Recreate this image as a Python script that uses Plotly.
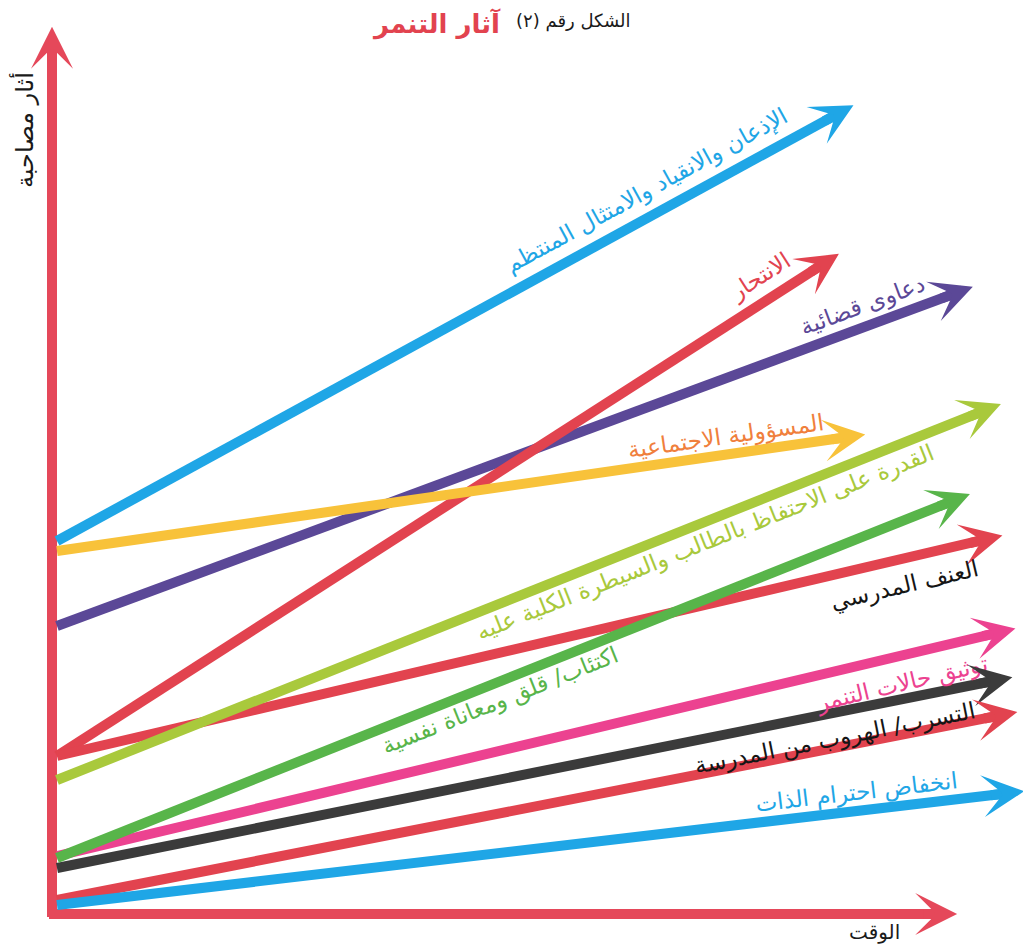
import math
import plotly.graph_objects as go

# ---------------- data ----------------
labels = [
    "الإذعان والانقياد والامتثال المنتظم",
    "دعاوى قضائية",
    "الانتحار",
    "المسؤولية الاجتماعية",
    "العنف المدرسي",
    "القدرة على الاحتفاظ بالطالب والسيطرة الكلية عليه",
    "اكتئاب/ قلق ومعاناة نفسية",
    "توثيق حالات التنمر",
    "",
    "التسرب/ الهروب من المدرسة",
    "انخفاض احترام الذات",
]
start_time = [0.5, 0.5, 0.5, 0.5, 0.5, 0.5, 0.5, 0.5, 0.5, 0.5, 0.5]
start_value = [37.3, 28.8, 15.8, 36.3, 15.8, 13.4, 5.6, 5.8, 1.4, 4.6, 0.9]
end_time = [81.1, 93.1, 79.6, 82.4, 96.1, 95.9, 92.8, 97.4, 97.6, 97.1, 98.3]
end_value = [81.4, 63.1, 66.6, 48.1, 38.1, 51.4, 42.4, 28.8, 20.4, 23.9, 12.4]

title_black = "\u200fالشكل رقم (٢)\u200f"
title_red = "آثار التنمر"
y_title = "أثار مصاحبة"
x_title = "الوقت"
axis_y_end = 89.8
axis_x_end = 91.6

# ---------------- styles ----------------
arrow_colors = ["#1fa6e6", "#5b4897", "#e2434f", "#f8c23a", "#e2434f",
                "#a9c93c", "#58b54a", "#ec4290", "#e2434f", "#3b3b3b", "#1fa6e6"]
label_colors = ["#1fa6e6", "#5b4897", "#e2434f", "#f07f3c", "#151515",
                "#a9c93c", "#58b54a", "#ec4290", "#151515", "#151515", "#1fa6e6"]
label_t = [0.746, 0.878, 0.905, 0.82, 0.88, 0.672, 0.473, 0.866, 0.5, 0.80, 0.82]
label_off = [24, 21, 23, 18, -26, -19, -18, -27, 0, -25, 18]
axis_color = "#e5485a"
FONT = "DejaVu Sans"
W = 10          # shaft width px
HEAD = 0.7      # arrow head size relative to width
PX_PER_UNIT = 10.0
FW, FH = 1031, 944
tip_ext = 1.55 * HEAD * W / PX_PER_UNIT   # barbed head tip beyond its origin

fig = go.Figure()
annotations = []


def add_arrow(x0, y0, x1, y1, color, name):
    dx, dy = x1 - x0, y1 - y0
    L = math.hypot(dx, dy)
    ux, uy = dx / L, dy / L
    hx, hy = x1 - tip_ext * ux, y1 - tip_ext * uy   # head origin so tip lands on (x1, y1)
    fig.add_trace(go.Scatter(
        x=[x0, x1 - 2.3 * ux], y=[y0, y1 - 2.3 * uy], mode="lines",
        line=dict(color=color, width=W), hoverinfo="text", text=name,
        showlegend=False))
    annotations.append(dict(
        x=hx, y=hy, ax=hx - 3.5 * ux, ay=hy - 3.5 * uy,
        xref="x", yref="y", axref="x", ayref="y", text="",
        showarrow=True, arrowhead=3, arrowsize=HEAD, arrowwidth=W,
        arrowcolor=color, standoff=0))
    return ux, uy


# axes arrows
add_arrow(0, -0.3, 0, axis_y_end, axis_color, y_title)
add_arrow(-0.3, 0, axis_x_end, 0, axis_color, x_title)

# draw order (back to front)
order = [1, 2, 3, 0, 4, 5, 7, 9, 8, 10, 6]
for i in order:
    ux, uy = add_arrow(start_time[i], start_value[i], end_time[i], end_value[i],
                       arrow_colors[i], labels[i])
    if labels[i]:
        t = label_t[i]
        xc = start_time[i] + t * (end_time[i] - start_time[i])
        yc = start_value[i] + t * (end_value[i] - start_value[i])
        ang = math.degrees(math.atan2(uy, ux))
        off = label_off[i]
        annotations.append(dict(
            x=xc, y=yc, xref="x", yref="y", text=labels[i], showarrow=False,
            xanchor="center", yanchor="middle",
            textangle=-ang, xshift=-uy * off, yshift=ux * off,
            font=dict(family=FONT, size=23, color=label_colors[i])))

# titles
annotations += [
    dict(x=565 / FW, y=1 - 13 / FH, xref="paper", yref="paper", text=title_black,
         showarrow=False, xanchor="center", yanchor="middle",
         font=dict(family=FONT, size=18, color="#1a1a1a")),
    dict(x=428 / FW, y=1 - 16 / FH, xref="paper", yref="paper",
         text="<b>" + title_red + "</b>", showarrow=False,
         xanchor="center", yanchor="middle",
         font=dict(family=FONT, size=26, color="#e2434f")),
    dict(x=16 / FW, y=1 - 122 / FH, xref="paper", yref="paper", text=y_title,
         showarrow=False, textangle=-90, xanchor="center", yanchor="middle",
         font=dict(family=FONT, size=24, color="#1a1a1a")),
    dict(x=866 / FW, y=1 - 924 / FH, xref="paper", yref="paper", text=x_title,
         showarrow=False, xanchor="center", yanchor="middle",
         font=dict(family=FONT, size=20, color="#1a1a1a")),
]

fig.update_layout(
    width=FW, height=FH, margin=dict(l=0, r=0, t=0, b=0),
    paper_bgcolor="white", plot_bgcolor="white",
    xaxis=dict(range=[-4.4, 98.7], visible=False, fixedrange=True),
    yaxis=dict(range=[-3.8, 90.6], visible=False, fixedrange=True),
    annotations=annotations, showlegend=False,
)

fig.write_html("out.html")
